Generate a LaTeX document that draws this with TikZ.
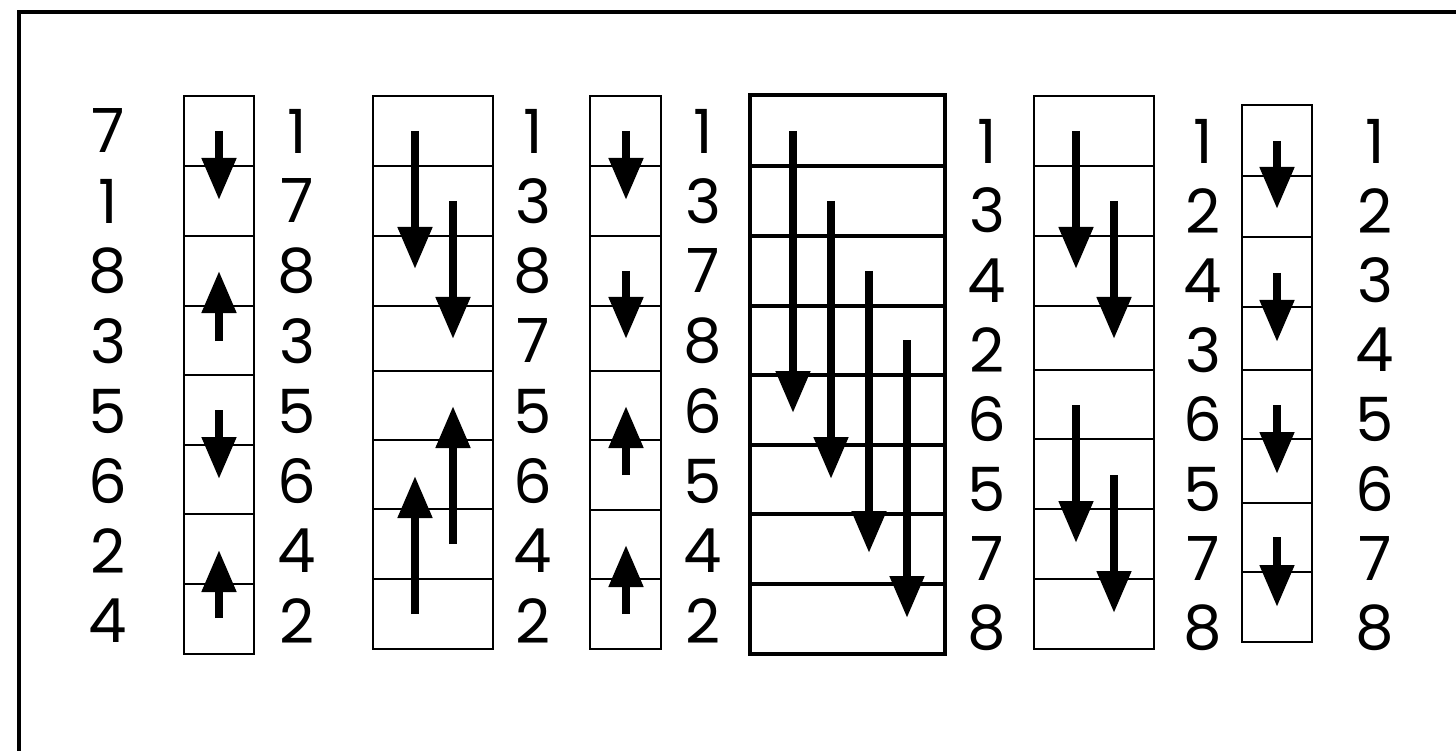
\documentclass[tikz,border=0pt]{standalone}
\usepackage{fontspec}
\setmainfont{Poppins}
\usetikzlibrary{arrows.meta}
\tikzset{
  lbl/.style={inner sep=0pt, font=\fontsize{61}{61}\selectfont},
  cmp/.style={line width=8pt, -{Triangle[width=33pt,length=42pt]}},
}
\begin{document}
\begin{tikzpicture}[x=1pt,y=-1pt]
\useasboundingbox (0,0) rectangle (1456,751);
\fill[white] (0,0) rectangle (1456,751);
% outer frame (extends beyond image)
\draw[line width=3.5pt] (19,760) -- (19,12) -- (1470,12);

% labels
\foreach \v [count=\i from 0] in {7,1,8,3,5,6,2,4}
  \node[lbl] (a\i) at (108,131+70*\i) {\v};
\foreach \v [count=\i from 0] in {1,7,8,3,5,6,4,2}
  \node[lbl] (b\i) at (297,131+70*\i) {\v};
\foreach \v [count=\i from 0] in {1,3,8,7,5,6,4,2}
  \node[lbl] (c\i) at (533,131+70*\i) {\v};
\foreach \v [count=\i from 0] in {1,3,7,8,6,5,4,2}
  \node[lbl] (d\i) at (703,131+70*\i) {\v};
\foreach \v [count=\i from 0] in {1,3,4,2,6,5,7,8}
  \node[lbl] (e\i) at (987,141+69.6*\i) {\v};
\foreach \v [count=\i from 0] in {1,2,4,3,6,5,7,8}
  \node[lbl] (f\i) at (1203,141+69.6*\i) {\v};
\foreach \v [count=\i from 0] in {1,2,3,4,5,6,7,8}
  \node[lbl] (g\i) at (1375,141+69.6*\i) {\v};

% box 1
\draw[line width=1.5pt] (184,96) rectangle (254,654);
\foreach \y in {166,236,306,375,445,514,584} \draw[line width=1.5pt] (184,\y) -- (254,\y);
% box 2
\draw[line width=2.5pt] (373,96) rectangle (493,649);
\foreach \y in {166,236,306,371,440,509,579} \draw[line width=2.5pt] (373,\y) -- (493,\y);
% box 3
\draw[line width=1.5pt] (590,96) rectangle (661,649);
\foreach \y in {166,236,306,371,440,510,579} \draw[line width=1.5pt] (590,\y) -- (661,\y);
% box 4
\draw[line width=3.5pt] (750,95) rectangle (945,654);
\foreach \y in {166,236,306,375,445,514,584} \draw[line width=3.5pt] (750,\y) -- (945,\y);
% box 5
\draw[line width=2.5pt] (1034,96) rectangle (1154,649);
\foreach \y in {166,236,306,370,439,509,579} \draw[line width=2.5pt] (1034,\y) -- (1154,\y);
% box 6
\draw[line width=2pt] (1242,105) rectangle (1312,642);
\foreach \y in {176,237,307,370,439,503,572} \draw[line width=2pt] (1242,\y) -- (1312,\y);

% arrows box 1
\draw[cmp] (219,131) -- (219,200);
\draw[cmp] (219,341) -- (219,271);
\draw[cmp] (219,410) -- (219,479);
\draw[cmp] (219,618) -- (219,550);
% arrows box 2
\draw[cmp] (415,131) -- (415,269);
\draw[cmp] (453,201) -- (453,339);
\draw[cmp] (453,544) -- (453,406);
\draw[cmp] (415,614) -- (415,476);
% arrows box 3
\draw[cmp] (626,131) -- (626,200);
\draw[cmp] (626,271) -- (626,339);
\draw[cmp] (626,475) -- (626,406);
\draw[cmp] (626,614) -- (626,545);
% arrows box 4
\draw[cmp] (793,131) -- (793,413);
\draw[cmp] (831,201) -- (831,479);
\draw[cmp] (869,271) -- (869,553);
\draw[cmp] (907,340) -- (907,618);
% arrows box 5
\draw[cmp] (1076,131) -- (1076,269);
\draw[cmp] (1114,201) -- (1114,339);
\draw[cmp] (1076,405) -- (1076,543);
\draw[cmp] (1114,475) -- (1114,613);
% arrows box 6
\draw[cmp] (1277,141) -- (1277,209);
\draw[cmp] (1277,273) -- (1277,342);
\draw[cmp] (1277,405) -- (1277,474);
\draw[cmp] (1277,537) -- (1277,607);
\end{tikzpicture}
\end{document}
